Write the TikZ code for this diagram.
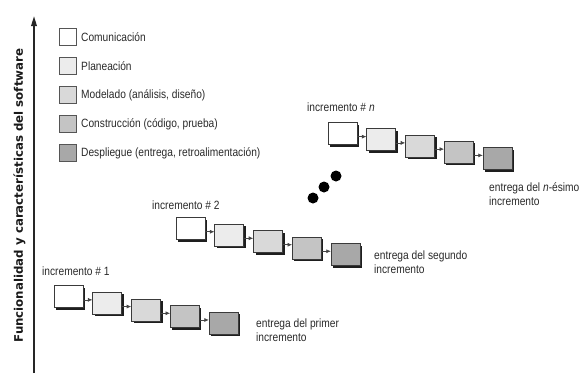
\documentclass[tikz,border=0pt]{standalone}
\usepackage{fontspec}
\setmainfont{Liberation Sans}[FakeStretch=0.85]
\newfontfamily\axisfont{DejaVu Sans}
\usetikzlibrary{arrows.meta,shadows,calc}
\definecolor{fcA}{HTML}{FFFFFF}
\definecolor{fcB}{HTML}{ECECEC}
\definecolor{fcC}{HTML}{D9D9D9}
\definecolor{fcD}{HTML}{C4C4C4}
\definecolor{fcE}{HTML}{A8A8A8}
\definecolor{boxline}{HTML}{3A3A3A}
\definecolor{legline}{HTML}{555555}
\definecolor{shadowc}{HTML}{1E1E1E}
\definecolor{textc}{HTML}{2A2A2A}
\definecolor{linkc}{HTML}{444444}
\begin{document}
\begin{tikzpicture}[x=1pt,y=-1pt,
  incbox/.style={draw=boxline, line width=0.8pt, minimum width=29pt, minimum height=22pt, inner sep=0pt,
    drop shadow={shadow xshift=2pt, shadow yshift=-2pt, fill=shadowc, opacity=1}},
  legbox/.style={draw=legline, line width=0.8pt, minimum size=17pt, inner sep=0pt},
  txt/.style={font=\fontsize{12}{14.5}\selectfont, inner sep=0pt, align=left, anchor=west, text=textc},
  link/.style={draw=linkc, line width=0.6pt, -{Latex[length=4.5pt,width=4pt]}},
  axisline/.style={draw=black!85, line width=1.8pt, -{Triangle[length=10pt,width=5.5pt]}},
  dotnode/.style={circle, fill=black, minimum size=11pt, inner sep=0pt}
]
\useasboundingbox (0,0) rectangle (583,373);

% axis
\coordinate (ax0) at (34,373);
\coordinate (ax1) at (34,16);
\draw[axisline] (ax0) -- (ax1);
\node[rotate=90, inner sep=0pt, text=black!90, font={\axisfont\bfseries\fontsize{11.8}{12}\selectfont}] (axl) at (19.5,195.5)
  {Funcionalidad y características del software};

% legend
\node[legbox, fill=fcA] (g1) at (67.5,36.5) {};
\node[legbox, fill=fcB] (g2) at (67.5,65.5) {};
\node[legbox, fill=fcC] (g3) at (67.5,94.5) {};
\node[legbox, fill=fcD] (g4) at (67.5,123.5) {};
\node[legbox, fill=fcE] (g5) at (67.5,152.5) {};
\node[txt] (t1) at (81,37) {Comunicación};
\node[txt] (t2) at (81,66) {Planeación};
\node[txt] (t3) at (81,95) {Modelado (análisis, diseño)};
\node[txt] (t4) at (81,124) {Construcción (código, prueba)};
\node[txt] (t5) at (81,153) {Despliegue (entrega, retroalimentación)};

% increments
\foreach \n/\x/\y/\dy in {a/68.5/296.5/6.7, b/190.5/228.5/6.5, c/342.5/133.5/6.25} {
  \foreach \k/\col in {1/fcA,2/fcB,3/fcC,4/fcD,5/fcE} {
    \node[incbox, fill=\col] (\n\k) at ({\x+38.8*(\k-1)}, {\y+\dy*(\k-1)}) {};
  }
  \foreach \k [evaluate=\k as \j using int(\k+1)] in {1,...,4} {
    \coordinate (m) at ($(\n\k.east)!0.5!(\n\j.west)$);
    \draw[link] (\n\k.east |- m) -- (\n\j.west |- m);
  }
}

\node[txt] (l1) at (42,271) {incremento \# 1};
\node[txt] (l2) at (152,205) {incremento \# 2};
\node[txt] (l3) at (307,107) {incremento \# \textit{n}};
\node[txt] (e1) at (256,330) {entrega del primer\\incremento};
\node[txt] (e2) at (374,262) {entrega del segundo\\incremento};
\node[txt] (e3) at (489,194) {entrega del \textit{n}-ésimo\\incremento};

% dots
\node[dotnode] (d1) at (313,198) {};
\node[dotnode] (d2) at (324,187) {};
\node[dotnode] (d3) at (336,176) {};
\end{tikzpicture}
\end{document}
